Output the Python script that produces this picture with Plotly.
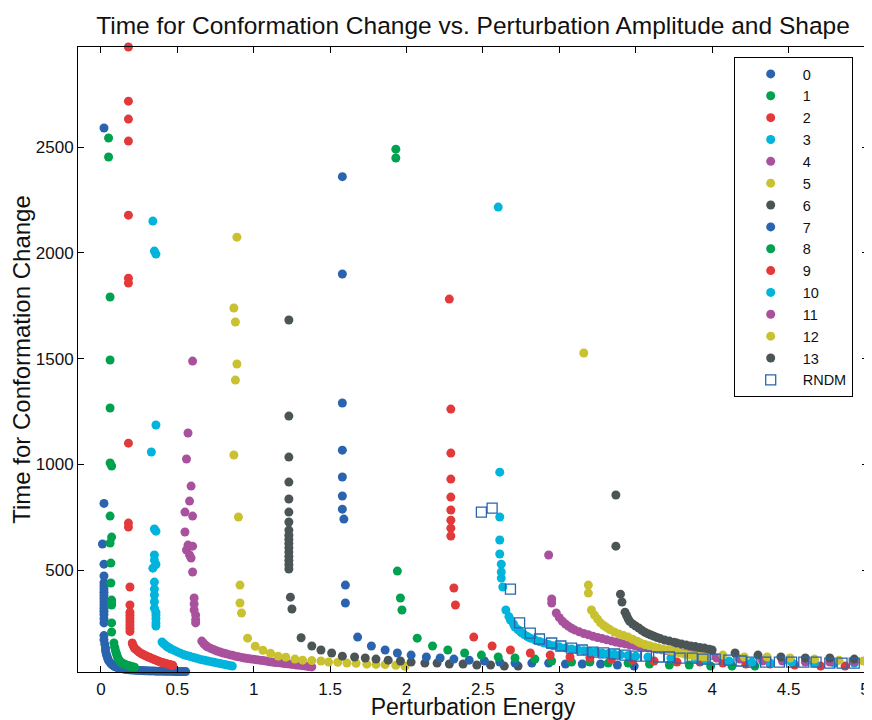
import plotly.graph_objects as go

# ---- data: (perturbation energy, time) pairs ----
series_names = ["0", "1", "2", "3", "4", "5", "6", "7", "8", "9", "10", "11", "12", "13"]
series_colors = ["#2a64ae", "#00a14f", "#e2393a", "#00b4dc", "#a9519c", "#c9c12f", "#4c5556",
                 "#2a64ae", "#00a14f", "#e2393a", "#00b4dc", "#a9519c", "#c9c12f", "#4c5556"]

s0 = [(0.02, 2590), (0.02, 815), (0.01, 623), (0.02, 528), (0.02, 472),
      (0.02, 440), (0.02, 425), (0.02, 410), (0.02, 395), (0.02, 380), (0.02, 365), (0.02, 350),
      (0.02, 335), (0.02, 320), (0.02, 305), (0.02, 290), (0.02, 270), (0.02, 250),
      (0.02, 190), (0.02, 170), (0.025, 150), (0.03, 132), (0.03, 118), (0.035, 104), (0.04, 92),
      (0.045, 81), (0.05, 72), (0.06, 62), (0.07, 54), (0.08, 48), (0.09, 44), (0.10, 41),
      (0.11, 38), (0.12, 36), (0.135, 34), (0.15, 32), (0.165, 30), (0.18, 29), (0.195, 28),
      (0.21, 27), (0.225, 26), (0.24, 26), (0.255, 25), (0.27, 25), (0.285, 24), (0.30, 24),
      (0.315, 23), (0.33, 23), (0.345, 23), (0.36, 22), (0.375, 22), (0.39, 22), (0.405, 22),
      (0.42, 21), (0.435, 21), (0.45, 21), (0.465, 21), (0.48, 20), (0.495, 20), (0.51, 20),
      (0.525, 20), (0.54, 20), (0.555, 20)]
s1 = [(0.05, 2543), (0.05, 2453), (0.06, 1791), (0.06, 1493), (0.06, 1266), (0.06, 1006),
      (0.07, 992), (0.06, 755), (0.07, 656), (0.06, 628), (0.065, 533), (0.065, 439),
      (0.07, 358), (0.07, 345), (0.07, 335), (0.07, 250), (0.07, 207), (0.085, 155),
      (0.09, 135), (0.095, 120), (0.10, 108), (0.105, 96), (0.11, 86), (0.115, 78), (0.12, 72),
      (0.13, 65), (0.14, 60), (0.15, 56), (0.16, 53), (0.17, 50), (0.18, 48), (0.19, 46),
      (0.20, 44), (0.21, 42), (0.22, 41)]
s2 = [(0.18, 2973), (0.18, 2717), (0.18, 2632), (0.18, 2528), (0.18, 2178), (0.18, 1880),
      (0.18, 1857), (0.18, 1100), (0.18, 722), (0.18, 703), (0.19, 420), (0.19, 335),
      (0.19, 300), (0.19, 285), (0.19, 270), (0.19, 255), (0.19, 240), (0.19, 225), (0.19, 210),
      (0.205, 155), (0.21, 145), (0.215, 137), (0.22, 130), (0.23, 124), (0.24, 118), (0.25, 112),
      (0.26, 107), (0.27, 103), (0.28, 99), (0.29, 96), (0.30, 92), (0.31, 89), (0.32, 86),
      (0.33, 83), (0.34, 80), (0.35, 77), (0.36, 74), (0.37, 71), (0.38, 68), (0.39, 65),
      (0.40, 63), (0.41, 61), (0.42, 59), (0.43, 57), (0.44, 55), (0.45, 53), (0.46, 51), (0.47, 50)]
s3 = [(0.34, 2150), (0.35, 2008), (0.36, 1994), (0.36, 1186), (0.33, 1058), (0.35, 694),
      (0.36, 684), (0.35, 571), (0.35, 547), (0.34, 509), (0.36, 526), (0.35, 443), (0.35, 410),
      (0.35, 382), (0.35, 350), (0.35, 320), (0.36, 300), (0.36, 287), (0.36, 270), (0.36, 250),
      (0.36, 235), (0.40, 160), (0.41, 152), (0.42, 146), (0.43, 140), (0.44, 135), (0.45, 131),
      (0.46, 127), (0.48, 120), (0.50, 113), (0.52, 107), (0.54, 101), (0.56, 96), (0.58, 92),
      (0.60, 88), (0.62, 84), (0.64, 80), (0.66, 76), (0.68, 73), (0.70, 70), (0.72, 67),
      (0.74, 64), (0.76, 61), (0.78, 58), (0.80, 55), (0.82, 52), (0.84, 49), (0.86, 46)]
s4 = [(0.60, 1488), (0.57, 1148), (0.56, 1025), (0.59, 897), (0.58, 826), (0.55, 774),
      (0.60, 755), (0.55, 680), (0.57, 618), (0.60, 613), (0.56, 595), (0.58, 571), (0.59, 557),
      (0.60, 491), (0.61, 368), (0.61, 340), (0.61, 311), (0.62, 287), (0.62, 265), (0.62, 250),
      (0.66, 164), (0.67, 155), (0.68, 147), (0.69, 141), (0.70, 136), (0.72, 129), (0.74, 123),
      (0.76, 117), (0.78, 112), (0.80, 108), (0.82, 104), (0.84, 100), (0.86, 97), (0.88, 93),
      (0.90, 90), (0.92, 87), (0.94, 84), (0.96, 82), (0.98, 80), (1.00, 78), (1.02, 76),
      (1.04, 74), (1.06, 72), (1.08, 70), (1.10, 67), (1.12, 65), (1.14, 63), (1.16, 62),
      (1.18, 60), (1.20, 58), (1.22, 57), (1.24, 55), (1.26, 53), (1.28, 51), (1.30, 50),
      (1.32, 48), (1.34, 46), (1.36, 44), (1.38, 42)]
s5 = [(0.89, 2074), (0.87, 1739), (0.88, 1673), (0.89, 1474), (0.88, 1398), (0.87, 1044),
      (0.90, 751), (0.91, 429), (0.91, 344), (0.92, 297), (0.96, 178), (1.01, 140), (1.06, 121),
      (1.11, 107), (1.16, 93), (1.21, 88), (1.27, 79), (1.32, 74), (1.38, 72), (1.44, 70),
      (1.49, 65), (1.55, 64), (1.61, 60), (1.67, 59), (1.74, 55), (1.80, 54), (1.86, 53),
      (1.93, 50), (1.99, 45)]
s6 = [(1.23, 1682), (1.23, 1228), (1.23, 1034), (1.23, 916), (1.23, 836), (1.23, 774),
      (1.23, 727), (1.23, 689), (1.23, 665), (1.23, 645), (1.23, 625), (1.23, 605), (1.23, 585),
      (1.23, 565), (1.23, 545), (1.23, 525), (1.23, 505), (1.24, 372), (1.25, 316), (1.31, 180),
      (1.38, 141), (1.44, 122), (1.51, 108), (1.58, 93), (1.66, 89), (1.73, 84), (1.80, 79),
      (1.88, 74), (1.96, 70), (2.03, 65), (2.12, 60), (2.20, 60), (2.28, 56), (2.37, 56),
      (2.46, 51), (2.55, 51), (2.64, 46), (2.73, 46)]
s7 = [(1.58, 2360), (1.58, 1900), (1.58, 1290), (1.58, 1067), (1.58, 940), (1.58, 850),
      (1.58, 788), (1.59, 741), (1.60, 429), (1.60, 344), (1.68, 183), (1.77, 141), (1.86, 122),
      (1.94, 108), (2.03, 98), (2.13, 89), (2.22, 84), (2.31, 79), (2.41, 74), (2.51, 70),
      (2.61, 65), (2.71, 60), (2.82, 60), (2.93, 60), (3.04, 56), (3.15, 56), (3.27, 56),
      (3.38, 51), (3.49, 46)]
s8 = [(1.93, 2490), (1.93, 2448), (1.94, 495), (1.96, 368), (1.97, 311), (2.07, 178),
      (2.17, 141), (2.27, 122), (2.38, 108), (2.49, 98), (2.60, 89), (2.71, 84), (2.84, 79),
      (2.95, 70), (3.08, 65), (3.20, 65), (3.32, 60), (3.45, 60), (3.59, 56), (3.72, 51),
      (3.85, 51), (3.99, 46), (4.13, 46), (4.28, 46)]
s9 = [(2.28, 1781), (2.29, 1261), (2.29, 1053), (2.29, 930), (2.29, 845), (2.29, 784),
      (2.29, 736), (2.29, 698), (2.29, 661), (2.31, 415), (2.32, 335), (2.44, 183), (2.56, 141),
      (2.68, 122), (2.81, 108), (2.94, 98), (3.07, 89), (3.20, 84), (3.34, 79), (3.48, 74),
      (3.62, 70), (3.77, 65), (3.92, 65), (4.07, 60), (4.22, 56), (4.38, 56), (4.54, 51),
      (4.71, 46), (4.87, 46)]
s10 = [(2.60, 2216), (2.61, 963), (2.61, 751), (2.61, 642), (2.61, 576), (2.62, 528),
       (2.62, 491), (2.62, 462), (2.63, 420), (2.65, 311), (2.67, 280), (2.68, 264), (2.70, 245),
       (2.71, 230), (2.73, 218), (2.75, 205), (2.77, 195), (2.79, 186), (2.81, 178), (2.84, 170),
       (2.87, 162), (2.90, 155), (2.93, 148), (2.96, 142), (3.00, 137), (3.04, 132), (3.08, 127),
       (3.12, 123), (3.16, 119), (3.20, 115), (3.24, 112), (3.28, 108), (3.32, 105), (3.36, 102),
       (3.40, 99), (3.45, 96), (3.50, 93), (3.58, 89), (3.73, 84), (3.89, 79), (3.96, 74),
       (4.11, 70), (4.26, 65), (4.38, 60), (4.52, 65), (4.67, 60), (4.80, 60), (4.93, 60)]
s11 = [(2.93, 571), (2.95, 363), (2.95, 344), (2.98, 297), (3.00, 275), (3.02, 258),
       (3.04, 245), (3.06, 234), (3.08, 225), (3.10, 217), (3.13, 208), (3.16, 200), (3.19, 194),
       (3.22, 187), (3.25, 181), (3.28, 176), (3.31, 170), (3.34, 165), (3.37, 160), (3.40, 155),
       (3.43, 151), (3.46, 147), (3.49, 143), (3.52, 139), (3.55, 136), (3.58, 133), (3.61, 130),
       (3.64, 126), (3.67, 123), (3.70, 120), (3.73, 117), (3.76, 114), (3.79, 111), (3.82, 108),
       (3.85, 106), (3.88, 104), (3.91, 102), (3.94, 100), (3.97, 98), (4.00, 96), (4.03, 84),
       (4.18, 79), (4.33, 70), (4.46, 70), (4.61, 65), (4.77, 65), (4.93, 65)]
s12 = [(3.16, 1526), (3.19, 429), (3.19, 391), (3.21, 311), (3.23, 287), (3.25, 268),
       (3.27, 250), (3.29, 238), (3.31, 228), (3.33, 219), (3.36, 207), (3.39, 198), (3.42, 190),
       (3.45, 183), (3.48, 173), (3.51, 163), (3.53, 155), (3.56, 148), (3.59, 142), (3.62, 136),
       (3.65, 131), (3.68, 126), (3.71, 122), (3.74, 117), (3.77, 112), (3.79, 108), (3.82, 103),
       (3.85, 98), (3.88, 94), (3.91, 92), (3.94, 90), (3.97, 89), (4.07, 98), (4.21, 89),
       (4.36, 89), (4.51, 84), (4.67, 79), (4.83, 74), (4.99, 70)]
s13 = [(3.37, 855), (3.37, 613), (3.40, 386), (3.41, 349), (3.43, 301), (3.44, 285),
       (3.45, 270), (3.46, 258), (3.48, 245), (3.50, 235), (3.52, 226), (3.54, 215), (3.56, 206),
       (3.58, 199), (3.60, 193), (3.62, 187), (3.64, 181), (3.66, 176), (3.69, 169), (3.72, 164),
       (3.75, 159), (3.77, 155), (3.80, 150), (3.83, 146), (3.86, 141), (3.89, 138), (3.92, 134),
       (3.95, 131), (3.98, 126), (4.00, 122), (4.15, 108), (4.30, 98), (4.45, 89), (4.61, 84),
       (4.77, 84), (4.93, 79)]
rndm = [(2.49, 774), (2.56, 793), (2.68, 410), (2.74, 250), (2.81, 202), (2.87, 174),
        (2.95, 155), (3.01, 141), (3.08, 131), (3.15, 122), (3.22, 112), (3.29, 108), (3.36, 103),
        (3.43, 98), (3.50, 93), (3.57, 93), (3.65, 89), (3.72, 89), (3.79, 84), (3.87, 84),
        (3.94, 79), (4.02, 79), (4.11, 74), (4.19, 70), (4.26, 65), (4.35, 65), (4.44, 65),
        (4.52, 65), (4.60, 65), (4.68, 65), (4.77, 60), (4.85, 60), (4.93, 60)]

all_series = [s0, s1, s2, s3, s4, s5, s6, s7, s8, s9, s10, s11, s12, s13]

x_tick_vals = [0, 0.5, 1, 1.5, 2, 2.5, 3, 3.5, 4, 4.5, 5]
x_tick_text = ["0", "0.5", "1", "1.5", "2", "2.5", "3", "3.5", "4", "4.5", "5"]
y_tick_vals = [500, 1000, 1500, 2000, 2500]

FONT = "Liberation Sans, Arial, Helvetica, sans-serif"

# page body has an 8px default margin, so the figure is sized to fit inside the window
FIG_W, FIG_H = 864, 712

fig = go.Figure()
for name, color, pts in zip(series_names, series_colors, all_series):
    fig.add_trace(go.Scatter(
        x=[p[0] for p in pts], y=[p[1] for p in pts], mode="markers", name=name,
        marker=dict(color=color, size=9, line=dict(width=0)), cliponaxis=False))
fig.add_trace(go.Scatter(
    x=[p[0] for p in rndm], y=[p[1] for p in rndm], mode="markers", name="RNDM",
    marker=dict(symbol="square-open", color="#2a64ae", size=10, line=dict(width=1.3)),
    cliponaxis=False))

axis_common = dict(showgrid=False, zeroline=False, showline=True, linecolor="black",
                   linewidth=1, mirror="ticks", ticks="inside", ticklen=6, tickcolor="black",
                   tickfont=dict(size=17, color="#111"), automargin=False)

fig.update_layout(
    width=FIG_W, height=FIG_H,
    margin=dict(l=70, r=4, t=39, b=48),
    paper_bgcolor="white", plot_bgcolor="white",
    font=dict(family=FONT, color="#111"),
    title=dict(text="Time for Conformation Change vs. Perturbation Amplitude and Shape",
               x=0.5, xref="paper", y=1 - 17 / FIG_H, yref="container", yanchor="middle",
               font=dict(size=24.5, color="#111"), automargin=False),
    xaxis=dict(range=[-0.15, 5.02], tickvals=x_tick_vals, ticktext=x_tick_text,
               ticklabelstandoff=2, ticklabeloverflow="allow",
               title=dict(text="Perturbation Energy", font=dict(size=23), standoff=8),
               **axis_common),
    yaxis=dict(range=[18, 2973], tickvals=y_tick_vals,
               title=dict(text="Time for Conformation Change", font=dict(size=24), standoff=8),
               **axis_common),
    showlegend=True,
    legend=dict(x=0.83, y=0.984, xanchor="left", yanchor="top", bgcolor="white",
                bordercolor="black", borderwidth=1, font=dict(size=14.5, color="#111"),
                tracegroupgap=0, itemsizing="trace", indentation=4, itemwidth=54,
                entrywidth=61, entrywidthmode="pixels"),
)

fig.write_html("out.html")
